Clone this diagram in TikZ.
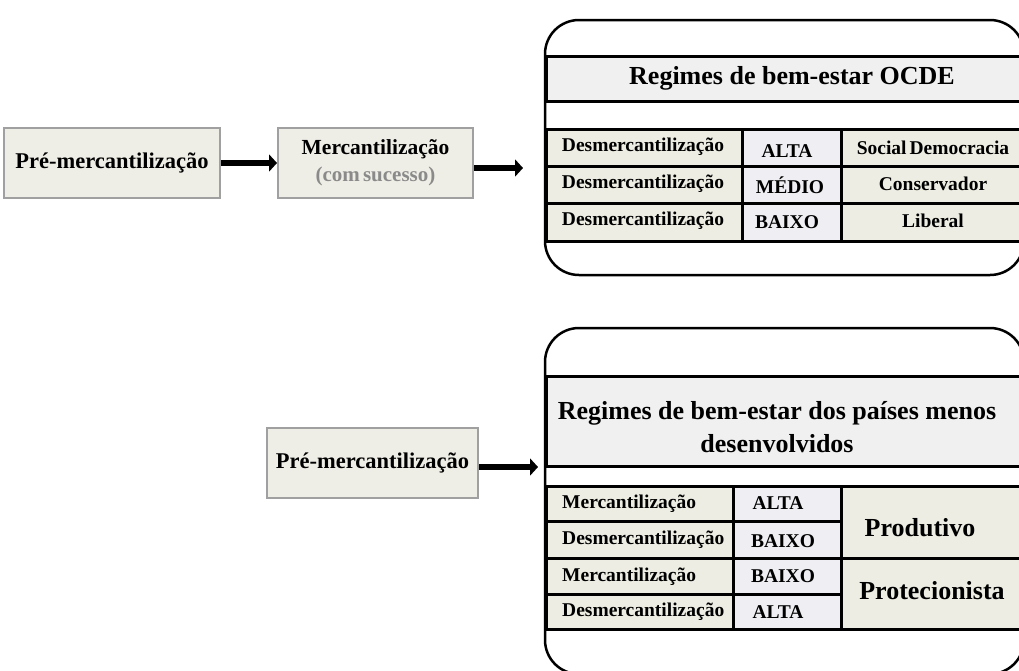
\documentclass[tikz,border=0pt]{standalone}
\usepackage{fontspec}
\setmainfont{Liberation Serif}
\usetikzlibrary{arrows.meta}
\definecolor{boxfill}{HTML}{EFEEE6}
\definecolor{boxline}{HTML}{A0A0A0}
\definecolor{cellA}{HTML}{EDEDE3}
\definecolor{cellB}{HTML}{EEEEF3}
\definecolor{headfill}{HTML}{F0F0F0}
\definecolor{graytext}{HTML}{8A8A8A}
\tikzset{
  procbox/.style={draw=boxline, line width=2pt, fill=boxfill, inner sep=0pt, font=\bfseries\fontsize{22.5}{26}\selectfont, align=center},
  bigarrow/.style={line width=6.5pt, -{Triangle[length=8pt,width=17pt]}},
  frame/.style={line width=2.5pt, rounded corners=34pt},
  cell/.style={draw=black, line width=2.5pt, inner sep=0pt, anchor=north west, font=\bfseries\fontsize{19}{22}\selectfont},
  headband/.style={draw=black, line width=2.5pt, fill=headfill, inner sep=0pt, anchor=north west, font=\bfseries\fontsize{26}{32}\selectfont, align=center},
  ct/.style={font=\bfseries\fontsize{19.5}{22}\selectfont, inner sep=0pt},
  bigct/.style={font=\bfseries\fontsize{26}{30}\selectfont, inner sep=0pt},
}
\begin{document}
\begin{tikzpicture}[x=1pt,y=-1pt]
\useasboundingbox (0,0) rectangle (1019,670);
\clip (0,0) rectangle (1019,670);

% ---------- top row ----------
\node[procbox, minimum width=216pt, minimum height=70pt] (pre1) at (112,163) {Pré-mercantilização};
\node[procbox, minimum width=195pt, minimum height=70pt] (merc) at (375.5,163) {\fontsize{21.5}{25}\selectfont Mercantilização\\[1pt]\textcolor{graytext}{\fontsize{21}{24}\selectfont(com\hspace{0.15em}sucesso)}};
\coordinate (t1) at (523,168);
\draw[bigarrow] (pre1.east) -- (merc.west);
\draw[bigarrow] (merc.east |- t1) -- (t1);

% top frame
\draw[frame] (545,20) rectangle (1024,275);
\node[headband, minimum width=490pt, minimum height=45pt] (h1) at (545,55) {};
\node at (792,78) [font=\bfseries\fontsize{26}{30}\selectfont] (h1t) {Regimes de bem-estar OCDE};

% top table
\node[cell, fill=cellA, minimum width=196pt, minimum height=37pt] (a11) at (545,128) {};
\node[cell, fill=cellB, minimum width=99pt, minimum height=37pt] (a12) at (741,128) {};
\node[cell, fill=cellA, minimum width=190pt, minimum height=37pt] (a13) at (840,128) {};
\node[cell, fill=cellA, minimum width=196pt, minimum height=37pt] (a21) at (545,165) {};
\node[cell, fill=cellB, minimum width=99pt, minimum height=37pt] (a22) at (741,165) {};
\node[cell, fill=cellA, minimum width=190pt, minimum height=37pt] (a23) at (840,165) {};
\node[cell, fill=cellA, minimum width=196pt, minimum height=38pt] (a31) at (545,202) {};
\node[cell, fill=cellB, minimum width=99pt, minimum height=38pt] (a32) at (741,202) {};
\node[cell, fill=cellA, minimum width=190pt, minimum height=38pt] (a33) at (840,202) {};

\node[ct] (c11) at (643,147) {Desmercantilização};
\node[ct] (c21) at (643,184) {Desmercantilização};
\node[ct] (c31) at (643,221) {Desmercantilização};
\node[ct] (c12) at (787,151) {ALTA};
\node[ct] (c22) at (790,185) {MÉDIO};
\node[ct] (c32) at (787,222) {BAIXO};
\node[ct] (c13) at (933,148) {Social\hspace{3pt}Democracia};
\node[ct] (c23) at (933,184) {Conservador};
\node[ct] (c33) at (933,221) {Liberal};

% ---------- bottom row ----------
\node[procbox, minimum width=211pt, minimum height=70pt] (pre2) at (372.5,463) {Pré-mercantilização};
\coordinate (t2) at (538,467);
\draw[bigarrow] (pre2.east |- t2) -- (t2);

\draw[frame] (545,328) rectangle (1024,674);
\node[headband, minimum width=490pt, minimum height=90pt] (h2) at (545,375) {};
\node at (777,427) [font=\bfseries\fontsize{26}{33}\selectfont, align=center] (h2t) {Regimes de bem-estar dos países menos\\desenvolvidos};

\node[cell, fill=cellA, minimum width=187pt, minimum height=35pt] (b11) at (545,485) {};
\node[cell, fill=cellB, minimum width=108pt, minimum height=35pt] (b12) at (732,485) {};
\node[cell, fill=cellA, minimum width=187pt, minimum height=37pt] (b21) at (545,520) {};
\node[cell, fill=cellB, minimum width=108pt, minimum height=37pt] (b22) at (732,520) {};
\node[cell, fill=cellA, minimum width=190pt, minimum height=72pt] (b13) at (840,485) {};
\node[cell, fill=cellA, minimum width=187pt, minimum height=36pt] (b31) at (545,557) {};
\node[cell, fill=cellB, minimum width=108pt, minimum height=36pt] (b32) at (732,557) {};
\node[cell, fill=cellA, minimum width=187pt, minimum height=35pt] (b41) at (545,593) {};
\node[cell, fill=cellB, minimum width=108pt, minimum height=35pt] (b42) at (732,593) {};
\node[cell, fill=cellA, minimum width=190pt, minimum height=71pt] (b33) at (840,557) {};

\node[ct, anchor=west] (d11) at (562,504) {Mercantilização};
\node[ct, anchor=west] (d21) at (562,540) {Desmercantilização};
\node[ct, anchor=west] (d31) at (562,577) {Mercantilização};
\node[ct, anchor=west] (d41) at (562,612) {Desmercantilização};
\node[ct] (d12) at (778,503) {ALTA};
\node[ct] (d22) at (783,541) {BAIXO};
\node[ct] (d32) at (783,576) {BAIXO};
\node[ct] (d42) at (778,612) {ALTA};
\node[bigct] (d13) at (920,528) {Produtivo};
\node[bigct] (d33) at (932,591) {Protecionista};
\end{tikzpicture}
\end{document}
